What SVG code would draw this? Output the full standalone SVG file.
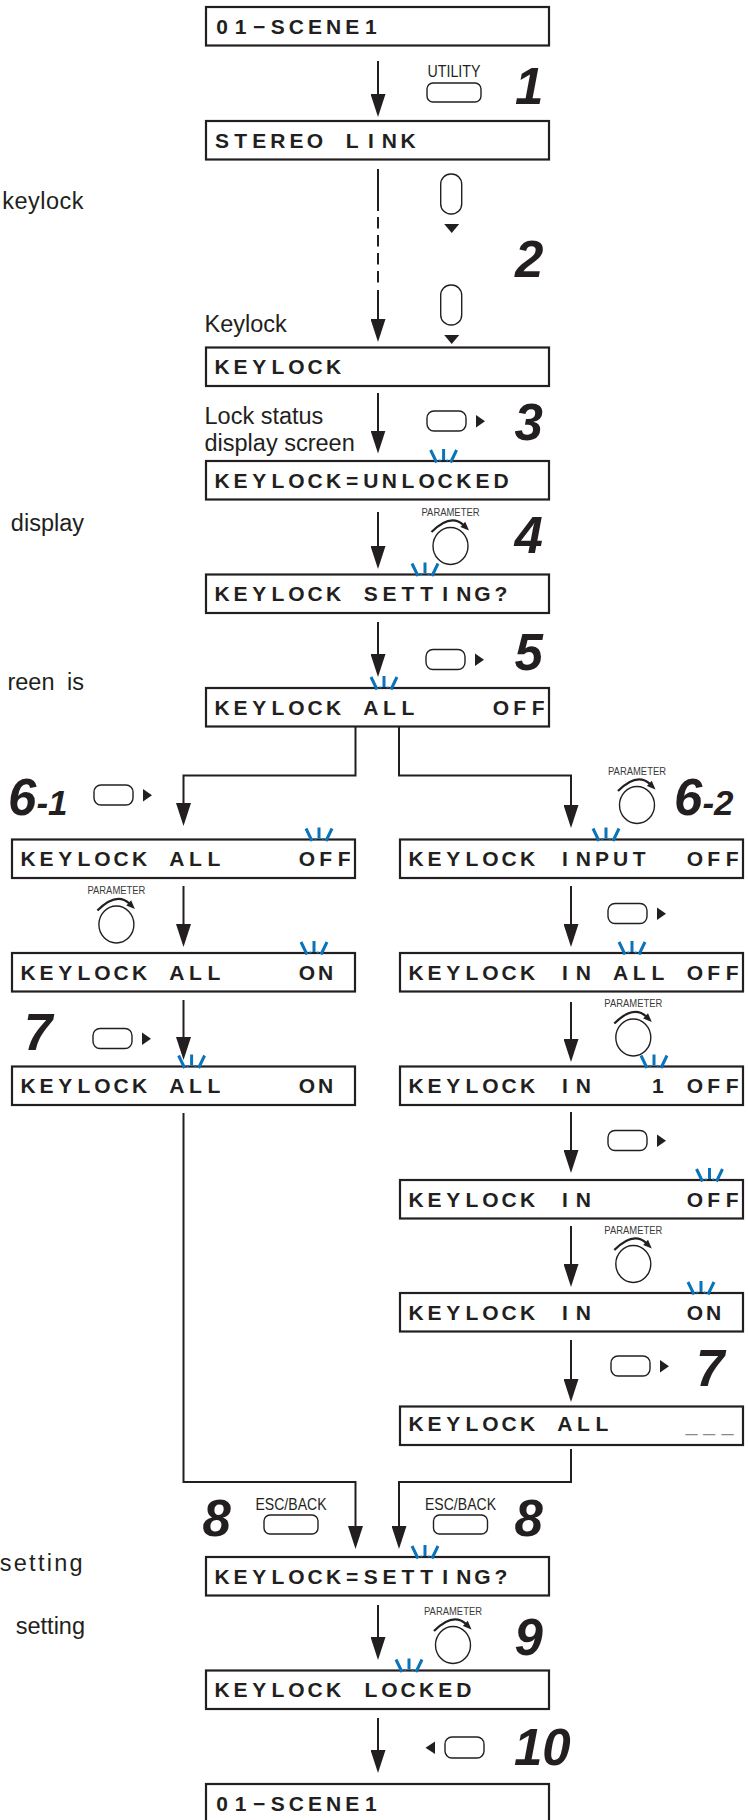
<svg xmlns="http://www.w3.org/2000/svg" width="748" height="1820" viewBox="0 0 748 1820">
<style>
.box{fill:#fff;stroke:#231f20;stroke-width:2.2}
.lcd{font-family:"Liberation Sans",Arial,sans-serif;font-weight:bold;font-size:21px;fill:#231f20;text-anchor:middle;white-space:pre}
.side{font-family:"Liberation Sans",Arial,sans-serif;font-size:23.5px;fill:#231f20}
.step{font-family:"Liberation Sans",Arial,sans-serif;font-weight:bold;font-style:italic;font-size:51px;fill:#231f20}
.lbl{font-family:"Liberation Sans",Arial,sans-serif;font-size:16.5px;fill:#231f20;text-anchor:middle}
.plbl{font-family:"Liberation Sans",Arial,sans-serif;font-size:11px;fill:#3a3a3a;text-anchor:middle}
.btn{fill:#fff;stroke:#231f20;stroke-width:1.4}
.knob{fill:#fff;stroke:#231f20;stroke-width:1.4}
.arc{fill:none;stroke:#231f20;stroke-width:2.2}
.con{fill:none;stroke:#231f20;stroke-width:2}
.bl{stroke:#0a74bb;stroke-width:3;fill:none}
.gray{fill:#8a8a8a;font-weight:normal}
</style>
<defs>
<marker id="ah" markerUnits="userSpaceOnUse" markerWidth="24" markerHeight="15" refX="13" refY="7.5" orient="auto">
<path d="M0,0 L23,7.5 L0,15 z" fill="#231f20"/>
</marker>
<g id="blink">
<path class="bl" d="M-13,-11 L-7,1.5 M0,-12 L0,-1 M13,-11 L7,1.5"/>
<circle cx="-3.7" cy="-0.5" r="1.1" fill="#0a74bb"/>
<circle cx="3.7" cy="-0.5" r="1.1" fill="#0a74bb"/>
</g>
<g id="btnR">
<rect class="btn" x="0" y="0" width="39" height="20" rx="7"/>
<polygon points="49,4 49,16.5 58,10.25" fill="#231f20"/>
</g>
<g id="btnV">
<rect class="btn" x="0" y="0" width="21" height="40" rx="10"/>
<polygon points="3.5,50 18.5,50 11,59" fill="#231f20"/>
</g>
<g id="knob">
<text class="plbl" x="0" y="-30.5" textLength="58" lengthAdjust="spacingAndGlyphs">PARAMETER</text>
<path class="arc" d="M-19,-14 Q0,-33 13,-21"/>
<polygon points="14.7,-24.3 18.5,-15.5 9.9,-19.1" fill="#231f20"/>
<ellipse class="knob" cx="0" cy="0" rx="17.5" ry="18.5"/>
</g>
</defs>
<rect width="748" height="1820" fill="#fff"/>

<!-- side texts -->
<g id="side-texts">
<text class="side" x="84" y="209" text-anchor="end" letter-spacing="0.5">keylock</text>
<text class="side" x="84" y="531" text-anchor="end">display</text>
<text class="side" x="84" y="690" text-anchor="end" word-spacing="6">reen is</text>
<text class="side" x="85" y="1571" text-anchor="end" letter-spacing="2.3">setting</text>
<text class="side" x="85" y="1634" text-anchor="end">setting</text>
<text class="side" x="204.5" y="332">Keylock</text>
<text class="side" x="204.5" y="424">Lock status</text>
<text class="side" x="204.5" y="451">display screen</text>
</g>

<!-- connectors -->
<g id="connectors">
<path class="con" d="M378,61 V107" marker-end="url(#ah)"/>
<path class="con" d="M378,169 V211"/>
<path class="con" d="M378,217 V283" stroke-dasharray="11.5 6.5"/>
<path class="con" d="M378,290 V332" marker-end="url(#ah)"/>
<path class="con" d="M378,393 V443.5" marker-end="url(#ah)"/>
<path class="con" d="M378,512 V559" marker-end="url(#ah)"/>
<path class="con" d="M378,622 V667" marker-end="url(#ah)"/>
<path class="con" d="M355.5,726 V775.5 H183.5 V816" marker-end="url(#ah)"/>
<path class="con" d="M399,726 V775.5 H571 V818" marker-end="url(#ah)"/>
<path class="con" d="M183.5,886 V937" marker-end="url(#ah)"/>
<path class="con" d="M183.5,1000 V1050" marker-end="url(#ah)"/>
<path class="con" d="M571,886 V937" marker-end="url(#ah)"/>
<path class="con" d="M571,1002 V1052" marker-end="url(#ah)"/>
<path class="con" d="M571,1112 V1163" marker-end="url(#ah)"/>
<path class="con" d="M571,1226 V1277" marker-end="url(#ah)"/>
<path class="con" d="M571,1340 V1392" marker-end="url(#ah)"/>
<path class="con" d="M183.5,1113 V1482 H355.5 V1539" marker-end="url(#ah)"/>
<path class="con" d="M571,1449 V1482 H399 V1539" marker-end="url(#ah)"/>
<path class="con" d="M378,1605 V1650" marker-end="url(#ah)"/>
<path class="con" d="M378,1718 V1763" marker-end="url(#ah)"/>
</g>

<!-- main column nodes -->
<g id="n-scene1-top">
<rect class="box" x="206" y="7" width="343" height="38.5"/>
<text class="lcd" x="222 240.6 259.2 277.8 296.4 315 333.6 352.2 370.8 389.4 408 426.6 445.2 463.8 482.4 501 519.6 538.2" y="33.8">01−SCENE1</text>
</g>
<g id="n-stereo-link">
<rect class="box" x="206" y="121" width="343" height="38.5"/>
<text class="lcd" x="222 240.6 259.2 277.8 296.4 315 333.6 352.2 370.8 389.4 408 426.6 445.2 463.8 482.4 501 519.6 538.2" y="147.8">STEREO LINK</text>
</g>
<g id="n-keylock">
<rect class="box" x="206" y="347.5" width="343" height="38.5"/>
<text class="lcd" x="222 240.6 259.2 277.8 296.4 315 333.6 352.2 370.8 389.4 408 426.6 445.2 463.8 482.4 501 519.6 538.2" y="374.3">KEYLOCK</text>
</g>
<g id="n-unlocked">
<rect class="box" x="206" y="461" width="343" height="38.5"/>
<text class="lcd" x="222 240.6 259.2 277.8 296.4 315 333.6 352.2 370.8 389.4 408 426.6 445.2 463.8 482.4 501 519.6 538.2" y="487.8">KEYLOCK=UNLOCKED</text>
<use href="#blink" x="443.6" y="461"/>
</g>
<g id="n-setting-q">
<rect class="box" x="206" y="574.5" width="343" height="38.5"/>
<text class="lcd" x="222 240.6 259.2 277.8 296.4 315 333.6 352.2 370.8 389.4 408 426.6 445.2 463.8 482.4 501 519.6 538.2" y="601.3">KEYLOCK SETTING?</text>
<use href="#blink" x="425" y="574.5"/>
</g>
<g id="n-all-off">
<rect class="box" x="206" y="688" width="343" height="38.5"/>
<text class="lcd" x="222 240.6 259.2 277.8 296.4 315 333.6 352.2 370.8 389.4 408 426.6 445.2 463.8 482.4 501 519.6 538.2" y="714.8">KEYLOCK ALL    OFF</text>
<use href="#blink" x="384" y="688"/>
</g>

<!-- left column nodes -->
<g id="n-l1">
<rect class="box" x="12" y="839.5" width="343" height="38.5"/>
<text class="lcd" x="28 46.6 65.2 83.8 102.4 121 139.6 158.2 176.8 195.4 214 232.6 251.2 269.8 288.4 307 325.6 344.2" y="866.3">KEYLOCK ALL    OFF</text>
<use href="#blink" x="319" y="839.5"/>
</g>
<g id="n-l2">
<rect class="box" x="12" y="953" width="343" height="38.5"/>
<text class="lcd" x="28 46.6 65.2 83.8 102.4 121 139.6 158.2 176.8 195.4 214 232.6 251.2 269.8 288.4 307 325.6 344.2" y="979.8">KEYLOCK ALL    ON</text>
<use href="#blink" x="314" y="953"/>
</g>
<g id="n-l3">
<rect class="box" x="12" y="1066.5" width="343" height="38.5"/>
<text class="lcd" x="28 46.6 65.2 83.8 102.4 121 139.6 158.2 176.8 195.4 214 232.6 251.2 269.8 288.4 307 325.6 344.2" y="1093.3">KEYLOCK ALL    ON</text>
<use href="#blink" x="191.6" y="1066.5"/>
</g>

<!-- right column nodes -->
<g id="n-r1">
<rect class="box" x="400" y="839.5" width="343" height="38.5"/>
<text class="lcd" x="416 434.6 453.2 471.8 490.4 509 527.6 546.2 564.8 583.4 602 620.6 639.2 657.8 676.4 695 713.6 732.2" y="866.3">KEYLOCK INPUT  OFF</text>
<use href="#blink" x="606" y="839.5"/>
</g>
<g id="n-r2">
<rect class="box" x="400" y="953" width="343" height="38.5"/>
<text class="lcd" x="416 434.6 453.2 471.8 490.4 509 527.6 546.2 564.8 583.4 602 620.6 639.2 657.8 676.4 695 713.6 732.2" y="979.8">KEYLOCK IN ALL OFF</text>
<use href="#blink" x="632" y="953"/>
</g>
<g id="n-r3">
<rect class="box" x="400" y="1066.5" width="343" height="38.5"/>
<text class="lcd" x="416 434.6 453.2 471.8 490.4 509 527.6 546.2 564.8 583.4 602 620.6 639.2 657.8 676.4 695 713.6 732.2" y="1093.3">KEYLOCK IN   1 OFF</text>
<use href="#blink" x="654" y="1066.5"/>
</g>
<g id="n-r4">
<rect class="box" x="400" y="1180" width="343" height="38.5"/>
<text class="lcd" x="416 434.6 453.2 471.8 490.4 509 527.6 546.2 564.8 583.4 602 620.6 639.2 657.8 676.4 695 713.6 732.2" y="1206.8">KEYLOCK IN     OFF</text>
<use href="#blink" x="709.5" y="1180"/>
</g>
<g id="n-r5">
<rect class="box" x="400" y="1293" width="343" height="38.5"/>
<text class="lcd" x="416 434.6 453.2 471.8 490.4 509 527.6 546.2 564.8 583.4 602 620.6 639.2 657.8 676.4 695 713.6 732.2" y="1319.8">KEYLOCK IN     ON</text>
<use href="#blink" x="701" y="1293"/>
</g>
<g id="n-r6">
<rect class="box" x="400" y="1406.5" width="343" height="38.5"/>
<text class="lcd" x="416 434.6 453.2 471.8 490.4 509 527.6 546.2 564.8 583.4 602 620.6 639.2 657.8 676.4 691.5 709 727.5" y="1431">KEYLOCK ALL    <tspan class="gray">___</tspan></text>
</g>

<!-- bottom nodes -->
<g id="n-setting-eq">
<rect class="box" x="206" y="1557" width="343" height="38.5"/>
<text class="lcd" x="222 240.6 259.2 277.8 296.4 315 333.6 352.2 370.8 389.4 408 426.6 445.2 463.8 482.4 501 519.6 538.2" y="1583.8">KEYLOCK=SETTING?</text>
<use href="#blink" x="425" y="1557"/>
</g>
<g id="n-locked">
<rect class="box" x="206" y="1670.5" width="343" height="38.5"/>
<text class="lcd" x="222 240.6 259.2 277.8 296.4 315 333.6 352.2 370.8 389.4 408 426.6 445.2 463.8 482.4 501 519.6 538.2" y="1697.3">KEYLOCK LOCKED</text>
<use href="#blink" x="409" y="1670.5"/>
</g>
<g id="n-scene1-bottom">
<rect class="box" x="206" y="1784" width="343" height="40"/>
<text class="lcd" x="222 240.6 259.2 277.8 296.4 315 333.6 352.2 370.8 389.4 408 426.6 445.2 463.8 482.4 501 519.6 538.2" y="1810.8">01−SCENE1</text>
</g>

<!-- step annotations -->
<g id="step1">
<text class="lbl" x="454" y="76.5" textLength="53" lengthAdjust="spacingAndGlyphs">UTILITY</text>
<rect class="btn" x="427" y="83" width="54" height="19" rx="6"/>
<text class="step" x="515" y="104">1</text>
</g>
<g id="step2">
<use href="#btnV" x="440.7" y="174"/>
<use href="#btnV" x="440.7" y="285"/>
<text class="step" x="515" y="277">2</text>
</g>
<g id="step3">
<use href="#btnR" x="427" y="411"/>
<text class="step" x="514.5" y="440">3</text>
</g>
<g id="step4">
<use href="#knob" x="450.5" y="546"/>
<text class="step" x="514.5" y="553">4</text>
</g>
<g id="step5">
<use href="#btnR" x="426" y="649.5"/>
<text class="step" x="514.5" y="670">5</text>
</g>
<g id="step6-1">
<text class="step" x="8" y="815">6<tspan font-size="35">-1</tspan></text>
<use href="#btnR" x="94" y="785"/>
</g>
<g id="step6-1b">
<use href="#knob" x="116.4" y="924.5"/>
</g>
<g id="step7-left">
<text class="step" x="24" y="1050">7</text>
<use href="#btnR" x="93" y="1028.5"/>
</g>
<g id="step6-2">
<use href="#knob" x="637" y="805"/>
<text class="step" x="674" y="815">6<tspan font-size="35">-2</tspan></text>
</g>
<g id="step6-2b">
<use href="#btnR" x="608" y="903.5"/>
<use href="#knob" x="633.3" y="1037.5"/>
<use href="#btnR" x="608" y="1130.5"/>
<use href="#knob" x="633.3" y="1264"/>
</g>
<g id="step7-right">
<use href="#btnR" x="611" y="1356"/>
<text class="step" x="696" y="1386">7</text>
</g>
<g id="step8-left">
<text class="step" x="202.5" y="1536">8</text>
<text class="lbl" x="291" y="1510" textLength="71" lengthAdjust="spacingAndGlyphs">ESC/BACK</text>
<rect class="btn" x="264" y="1515" width="54" height="19" rx="6"/>
</g>
<g id="step8-right">
<text class="lbl" x="460.5" y="1510" textLength="71" lengthAdjust="spacingAndGlyphs">ESC/BACK</text>
<rect class="btn" x="433.5" y="1515" width="54" height="19" rx="6"/>
<text class="step" x="514.5" y="1536">8</text>
</g>
<g id="step9">
<use href="#knob" x="453" y="1645"/>
<text class="step" x="514.5" y="1655">9</text>
</g>
<g id="step10">
<polygon points="435,1741.5 435,1754 425.5,1747.75" fill="#231f20"/>
<rect class="btn" x="445" y="1737" width="39" height="21" rx="7"/>
<text class="step" x="514" y="1765">10</text>
</g>
</svg>
